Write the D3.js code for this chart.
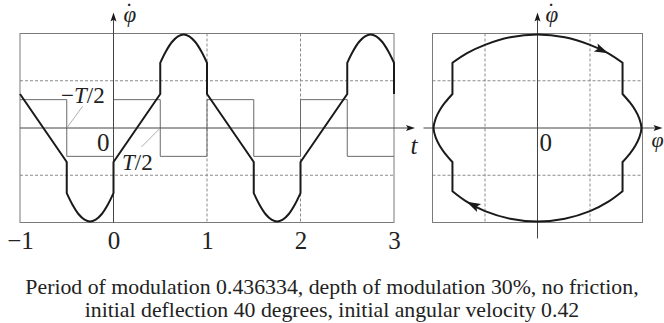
<!DOCTYPE html>
<html>
<head>
<meta charset="utf-8">
<title>Pendulum with modulated frequency</title>
<script src="https://d3js.org/d3.v7.min.js"></script>
<style>
body { margin: 0; background: #fff; }
text { font-family: "Liberation Serif", "Times New Roman", serif; fill: #222; }
</style>
</head>
<body>
<script>
var width = 664, height = 323;

// ticks and grid
var timeTicks = [-1, 0, 1, 2, 3];
var timeGrid = [1, 2];
var velGrid = [-0.5, 0.5];
var phaseGrid = [-0.5, 0.5];

// modulation (square wave): switch times and the level after each switch
var modTimes  = [-1, -0.5, 0, 0.5, 1, 1.5, 2, 2.5, 3];
var modLevels = [0.3, -0.3, 0.3, -0.3, 0.3, -0.3, 0.3, -0.3, -0.3];

// angular velocity vs time, piece by piece
var velPieces = [
  [[-1, 0.36], [-0.5, -0.36]],
  [[-0.5, -0.69], [-0.44, -0.81], [-0.375, -0.91], [-0.31, -0.97], [-0.25, -0.99], [-0.19, -0.97], [-0.125, -0.91], [-0.06, -0.81], [0, -0.69]],
  [[0, -0.36], [0.5, 0.36]],
  [[0.5, 0.69], [0.56, 0.81], [0.625, 0.91], [0.69, 0.97], [0.75, 0.99], [0.81, 0.97], [0.875, 0.91], [0.94, 0.81], [1, 0.69]],
  [[1, 0.36], [1.5, -0.36]],
  [[1.5, -0.69], [1.56, -0.81], [1.625, -0.91], [1.69, -0.97], [1.75, -0.99], [1.81, -0.97], [1.875, -0.91], [1.94, -0.81], [2, -0.69]],
  [[2, -0.36], [2.5, 0.36]],
  [[2.5, 0.69], [2.56, 0.81], [2.625, 0.91], [2.69, 0.97], [2.75, 0.99], [2.81, 0.97], [2.875, 0.91], [2.94, 0.81], [3, 0.69]],
  [[3, 0.69], [3, 0.36]]
];

// phase portrait (phi, phi dot), clockwise
var phasePieces = [
  [[-0.81, 0.69], [-0.675, 0.79], [-0.5, 0.88], [-0.26, 0.96], [0, 0.99], [0.26, 0.96], [0.5, 0.88], [0.675, 0.79], [0.81, 0.69]],
  [[0.81, 0.36], [0.88, 0.27], [0.93, 0.19], [0.97, 0.1], [0.99, 0], [0.97, -0.1], [0.93, -0.19], [0.88, -0.27], [0.81, -0.36]],
  [[0.81, -0.67], [0.675, -0.78], [0.5, -0.88], [0.26, -0.96], [0, -0.99], [-0.26, -0.96], [-0.5, -0.88], [-0.675, -0.78], [-0.81, -0.67]],
  [[-0.81, -0.36], [-0.88, -0.27], [-0.93, -0.19], [-0.97, -0.1], [-0.99, 0], [-0.97, 0.1], [-0.93, 0.19], [-0.88, 0.27], [-0.81, 0.36]]
];
// direction arrows on the loop
var phaseArrows = [
  { from: [0.5, 0.88], to: [0.675, 0.79] },
  { from: [-0.5, -0.88], to: [-0.675, -0.78] }
];

var captionLines = [
  "Period of modulation 0.436334, depth of modulation 30%, no friction,",
  "initial deflection 40 degrees, initial angular velocity 0.42"
];

var svg = d3.select("body").append("svg").attr("width", width).attr("height", height);

var xT = d3.scaleLinear().domain([-1, 3]).range([20, 394]);
var xP = d3.scaleLinear().domain([-1, 1]).range([432.5, 642.5]);
var y = d3.scaleLinear().domain([-1, 1]).range([222.5, 33.5]);

var frameCol = "#7a7a7a", gridCol = "#8a8a8a", axisCol = "#444", curveCol = "#1a1a1a";

function piecesPath(line, pieces, close) {
  var d = pieces.map(function (p, i) {
    var s = line(p);
    return i === 0 ? s : "L" + s.slice(1);
  }).join("");
  return close ? d + "Z" : d;
}

function arrowHead(g, tip, angle, len, half) {
  var pts = [[0, 0], [-len, -half], [-len * 0.8, 0], [-len, half]];
  g.append("path")
    .attr("d", "M" + pts.join("L") + "Z")
    .attr("transform", "translate(" + tip[0] + "," + tip[1] + ") rotate(" + angle + ")")
    .attr("fill", curveCol);
}

// phi with a dot above it, one text element
function phiDot(g, x, yb) {
  var t = g.append("text").attr("x", x).attr("y", yb).attr("font-size", 23);
  t.append("tspan").attr("font-style", "italic").text("\u03C6");
  t.append("tspan").attr("dx", -11).attr("dy", -3).text("\u02D9");
}

// ---------- left panel ----------
var L = svg.append("g");

L.selectAll(".hg").data(velGrid).enter().append("line")
  .attr("x1", xT(-1)).attr("x2", xT(3))
  .attr("y1", function (d) { return y(d); }).attr("y2", function (d) { return y(d); })
  .attr("stroke", gridCol).attr("stroke-dasharray", "3,2");
L.selectAll(".vg").data(timeGrid).enter().append("line")
  .attr("x1", function (d) { return xT(d); }).attr("x2", function (d) { return xT(d); })
  .attr("y1", y(1)).attr("y2", y(-1))
  .attr("stroke", gridCol).attr("stroke-dasharray", "3,2");

L.append("rect")
  .attr("x", xT(-1)).attr("y", y(1))
  .attr("width", xT(3) - xT(-1)).attr("height", y(-1) - y(1))
  .attr("fill", "none").attr("stroke", frameCol);

// square wave
L.append("path")
  .attr("d", d3.line().curve(d3.curveStepAfter)
    .x(function (d) { return xT(d[0]); }).y(function (d) { return y(d[1]); })
    (modTimes.map(function (t, i) { return [t, modLevels[i]]; })))
  .attr("fill", "none").attr("stroke", "#6a6a6a").attr("stroke-width", 1);

// axes
L.append("line").attr("x1", xT(-1)).attr("x2", xT(3) + 14)
  .attr("y1", y(0)).attr("y2", y(0)).attr("stroke", axisCol);
L.append("line").attr("x1", xT(0)).attr("x2", xT(0))
  .attr("y1", y(-1)).attr("y2", y(1) - 14).attr("stroke", axisCol);
arrowHead(L, [xT(3) + 21, y(0)], 0, 9, 3);
arrowHead(L, [xT(0), y(1) - 21], -90, 9, 3);

// leader lines
L.append("line").attr("x1", xT(-0.33)).attr("y1", y(0.23)).attr("x2", xT(-0.5)).attr("y2", y(0))
  .attr("stroke", "#999").attr("stroke-width", 0.8);
L.append("line").attr("x1", xT(0.3)).attr("y1", y(-0.2)).attr("x2", xT(0.5)).attr("y2", y(0))
  .attr("stroke", "#999").attr("stroke-width", 0.8);

// velocity curve
var lineT = d3.line().curve(d3.curveCatmullRom.alpha(0.5))
  .x(function (d) { return xT(d[0]); }).y(function (d) { return y(d[1]); });
L.append("path").attr("d", piecesPath(lineT, velPieces, false))
  .attr("fill", "none").attr("stroke", curveCol).attr("stroke-width", 2)
  .attr("stroke-linejoin", "round");

// tick labels
var ax = L.append("g").attr("transform", "translate(0," + y(-1) + ")")
  .call(d3.axisBottom(xT).tickValues(timeTicks).tickFormat(d3.format("d")).tickSize(0).tickPadding(9));
ax.select(".domain").remove();
ax.selectAll("text").attr("font-family", "Liberation Serif").attr("font-size", 25).attr("fill", "#222");

L.append("text").attr("x", xT(3) + 20).attr("y", 154).attr("text-anchor", "middle")
  .attr("font-size", 25).attr("font-style", "italic").text("t");
phiDot(L, xT(0) + 10, 22);
L.append("text").attr("x", xT(0) - 4).attr("y", 151).attr("text-anchor", "end")
  .attr("font-size", 25).text("0");
var tm = L.append("text").attr("x", 61).attr("y", 103).attr("font-size", 23);
tm.append("tspan").text("\u2212");
tm.append("tspan").attr("font-style", "italic").text("T");
tm.append("tspan").text("/2");
var tp = L.append("text").attr("x", 122).attr("y", 170).attr("font-size", 23);
tp.append("tspan").attr("font-style", "italic").text("T");
tp.append("tspan").text("/2");

// ---------- right panel ----------
var R = svg.append("g");

R.selectAll(".hg").data(velGrid).enter().append("line")
  .attr("x1", xP(-1)).attr("x2", xP(1))
  .attr("y1", function (d) { return y(d); }).attr("y2", function (d) { return y(d); })
  .attr("stroke", gridCol).attr("stroke-dasharray", "3,2");
R.selectAll(".vg").data(phaseGrid).enter().append("line")
  .attr("x1", function (d) { return xP(d); }).attr("x2", function (d) { return xP(d); })
  .attr("y1", y(1)).attr("y2", y(-1))
  .attr("stroke", gridCol).attr("stroke-dasharray", "3,2");

R.append("rect")
  .attr("x", xP(-1)).attr("y", y(1))
  .attr("width", xP(1) - xP(-1)).attr("height", y(-1) - y(1))
  .attr("fill", "none").attr("stroke", frameCol);

R.append("line").attr("x1", xP(-1) - 9).attr("x2", xP(1) + 13)
  .attr("y1", y(0)).attr("y2", y(0)).attr("stroke", axisCol);
R.append("line").attr("x1", xP(0)).attr("x2", xP(0))
  .attr("y1", y(-1) + 16).attr("y2", y(1) - 14).attr("stroke", axisCol);
arrowHead(R, [xP(1) + 20, y(0)], 0, 9, 3);
arrowHead(R, [xP(0), y(1) - 21], -90, 9, 3);

var lineP = d3.line().curve(d3.curveCatmullRom.alpha(0.5))
  .x(function (d) { return xP(d[0]); }).y(function (d) { return y(d[1]); });
R.append("path").attr("d", piecesPath(lineP, phasePieces, true))
  .attr("fill", "none").attr("stroke", curveCol).attr("stroke-width", 2)
  .attr("stroke-linejoin", "round");

phaseArrows.forEach(function (a) {
  var p0 = [xP(a.from[0]), y(a.from[1])], p1 = [xP(a.to[0]), y(a.to[1])];
  var ang = Math.atan2(p1[1] - p0[1], p1[0] - p0[0]) * 180 / Math.PI;
  arrowHead(R, p1, ang, 14, 4.5);
});

phiDot(R, xP(0) + 8, 22);
R.append("text").attr("x", xP(0) + 2).attr("y", 151).attr("text-anchor", "start")
  .attr("font-size", 25).text("0");
R.append("text").attr("x", xP(1) + 9).attr("y", 147).attr("text-anchor", "start")
  .attr("font-size", 22).attr("font-style", "italic").text("\u03C6");

// ---------- caption ----------
svg.selectAll(".cap").data(captionLines).enter().append("text")
  .attr("x", width / 2)
  .attr("y", function (d, i) { return 294 + i * 23; })
  .attr("text-anchor", "middle")
  .attr("font-size", 21.8)
  .text(function (d) { return d; });
</script>
</body>
</html>
